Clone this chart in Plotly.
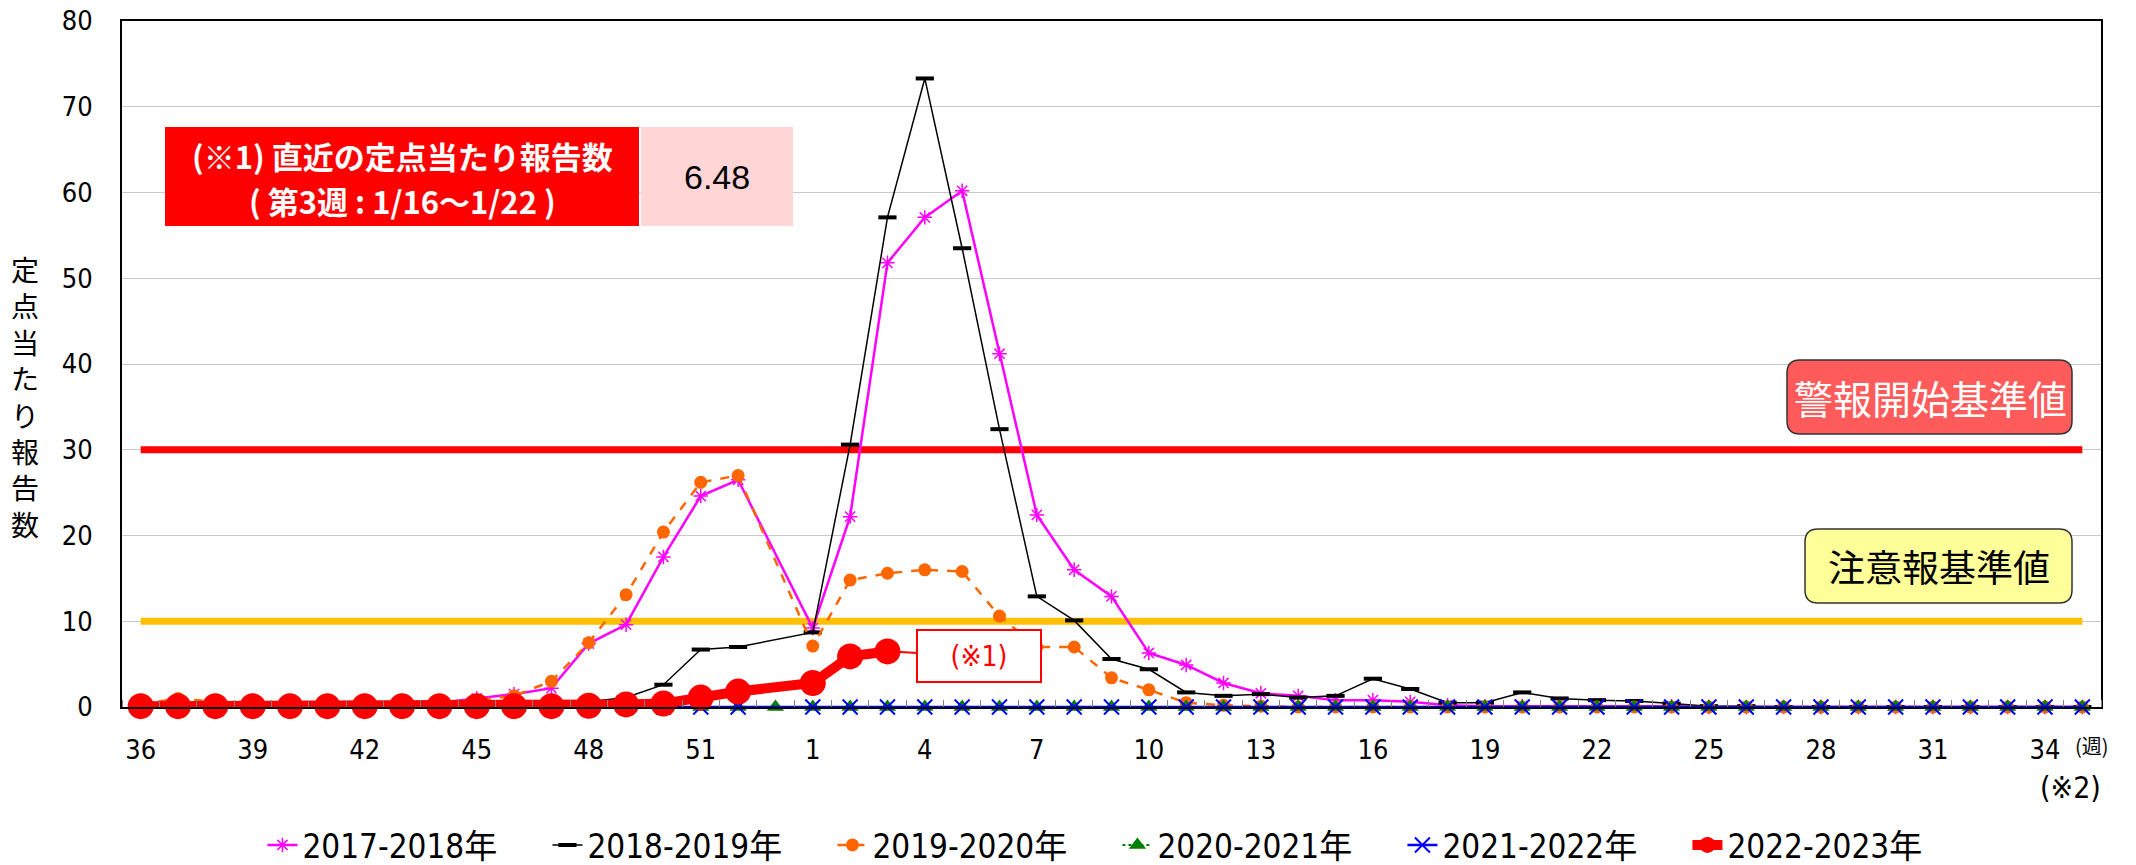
import plotly.graph_objects as go

# ---------------- data ----------------
weeks = [36, 37, 38, 39, 40, 41, 42, 43, 44, 45, 46, 47, 48, 49, 50, 51, 52, 53,
         1, 2, 3, 4, 5, 6, 7, 8, 9, 10, 11, 12, 13, 14, 15, 16, 17, 18, 19, 20,
         21, 22, 23, 24, 25, 26, 27, 28, 29, 30, 31, 32, 33, 34, 35]

s2017 = [0.1, 0.1, 0.1, 0.1, 0.1, 0.2, 0.2, 0.3, 0.5, 1.0, 1.5, 2.2, 7.4, 9.6, 17.5, 24.6, 26.5, None,
         9.2, 22.2, 51.8, 57.1, 60.2, 41.2, 22.4, 16.0, 12.9, 6.3, 4.9, 2.8, 1.6, 1.3, 0.8, 0.8, 0.6, 0.2,
         0.1, 0.1, 0.1, 0.1, 0.1, 0.1, 0.0, 0.0, 0.0, 0.0, 0.0, 0.0, 0.0, 0.0, 0.0, 0.0, 0.0]
s2018 = [0.1, 0.1, 0.1, 0.1, 0.1, 0.1, 0.1, 0.1, 0.2, 0.2, 0.3, 0.4, 0.6, 1.1, 2.6, 6.7, 7.0, None,
         8.7, 30.6, 57.1, 73.3, 53.5, 32.4, 12.9, 10.1, 5.6, 4.4, 1.7, 1.3, 1.5, 1.1, 1.3, 3.3, 2.1, 0.5,
         0.5, 1.7, 1.0, 0.8, 0.7, 0.4, 0.1, 0.1, 0.0, 0.0, 0.0, 0.0, 0.0, 0.0, 0.0, 0.0, 0.0]
s2019 = [0.3, 1.0, 0.6, 0.3, 0.3, 0.3, 0.3, 0.4, 0.6, 0.8, 1.3, 3.0, 7.5, 13.1, 20.4, 26.2, 27.0, None,
         7.1, 14.8, 15.6, 16.0, 15.8, 10.6, 7.0, 7.0, 3.4, 2.0, 0.5, 0.2, 0.1, 0.0, 0.0, 0.0, 0.0, 0.0,
         0.0, 0.0, 0.0, 0.0, 0.0, 0.0, 0.0, 0.0, 0.0, 0.0, 0.0, 0.0, 0.0, 0.0, 0.0, 0.0, 0.0]
s2020 = [0.0, 0.0, 0.0, 0.0, 0.0, 0.0, 0.0, 0.0, 0.0, 0.0, 0.0, 0.0, 0.0, 0.0, 0.0, 0.0, 0.0, 0.0,
         0.0, 0.0, 0.0, 0.0, 0.0, 0.0, 0.0, 0.0, 0.0, 0.0, 0.0, 0.0, 0.0, 0.0, 0.0, 0.0, 0.0, 0.0,
         0.0, 0.0, 0.0, 0.0, 0.0, 0.0, 0.0, 0.0, 0.0, 0.0, 0.0, 0.0, 0.0, 0.0, 0.0, 0.0, 0.0]
s2021 = [0.0, 0.0, 0.0, 0.0, 0.0, 0.0, 0.0, 0.0, 0.0, 0.0, 0.0, 0.0, 0.0, 0.0, 0.0, 0.0, 0.0, None,
         0.0, 0.0, 0.0, 0.0, 0.0, 0.0, 0.0, 0.0, 0.0, 0.0, 0.0, 0.0, 0.0, 0.0, 0.0, 0.0, 0.0, 0.0,
         0.0, 0.0, 0.0, 0.0, 0.0, 0.0, 0.0, 0.0, 0.0, 0.0, 0.0, 0.0, 0.0, 0.0, 0.0, 0.0, 0.0]
s2022 = [0.1, 0.1, 0.1, 0.1, 0.1, 0.1, 0.1, 0.1, 0.1, 0.1, 0.1, 0.1, 0.15, 0.3, 0.4, 1.1, 1.8, None,
         2.8, 5.9, 6.48]

series_names = ["2017-2018年", "2018-2019年", "2019-2020年", "2020-2021年", "2021-2022年", "2022-2023年"]
alarm_level = 30
advisory_level = 10
latest_value = "6.48"
latest_label_1 = "(※1) 直近の定点当たり報告数"
latest_label_2 = "( 第3週 : 1/16～1/22 )"
y_title = "定点当たり報告数"
y_ticks = [0, 10, 20, 30, 40, 50, 60, 70, 80]
tick_step = 3

# ---------------- layout helpers ----------------
W, H = 2136, 865
L, R, T, B = 122, 2101, 21, 707
PW, PH = R - L, B - T


def px(x):
    return (x - L) / PW


def py(y):
    return (B - y) / PH


def rounded_rect(x0, y0, x1, y1, r):
    X0, X1 = px(x0), px(x1)
    Yt, Yb = py(y0), py(y1)
    rx, ry = r / PW, r / PH
    return (f"M {X0+rx},{Yt} L {X1-rx},{Yt} Q {X1},{Yt} {X1},{Yt-ry} "
            f"L {X1},{Yb+ry} Q {X1},{Yb} {X1-rx},{Yb} L {X0+rx},{Yb} "
            f"Q {X0},{Yb} {X0},{Yb+ry} L {X0},{Yt-ry} Q {X0},{Yt} {X0+rx},{Yt} Z")


def label(x, y, text, **font):
    return dict(xref="paper", yref="paper", x=px(x), y=py(y), text=text, showarrow=False,
                xanchor="center", yanchor="middle", align="center", font=font)


xi = list(range(len(weeks)))
NARROW = "DejaVu Sans Condensed, Liberation Sans Narrow, Noto Sans CJK JP, sans-serif"
CJK = "Noto Sans CJK JP, sans-serif"

fig = go.Figure()

# threshold lines
fig.add_trace(go.Scatter(x=xi, y=[alarm_level for _ in weeks], mode="lines",
                         line=dict(color="#FF0000", width=7), showlegend=False, hoverinfo="skip"))
fig.add_trace(go.Scatter(x=xi, y=[advisory_level for _ in weeks], mode="lines",
                         line=dict(color="#FFC000", width=7), showlegend=False, hoverinfo="skip"))

styles = [
    dict(line=dict(color="#FF00FF", width=2.5),
         marker=dict(symbol="asterisk-open", size=12, color="#FF00FF", line=dict(color="#FF00FF", width=1.5))),
    dict(line=dict(color="#000000", width=1.5),
         marker=dict(symbol="line-ew", size=13, color="#000000", line=dict(color="#000000", width=4))),
    dict(line=dict(color="#FF6600", width=2.5, dash="dash"),
         marker=dict(symbol="circle", size=13, color="#FF6600")),
    dict(line=dict(color="#008000", width=2, dash="dot"),
         marker=dict(symbol="triangle-up", size=15, color="#008000")),
    dict(line=dict(color="#0000FF", width=2.5),
         marker=dict(symbol="x-thin-open", size=15, color="#0000FF", line=dict(color="#0000FF", width=2))),
    dict(line=dict(color="#FF0000", width=10),
         marker=dict(symbol="circle", size=26, color="#FF0000")),
]
for name, ys, st in zip(series_names, [s2017, s2018, s2019, s2020, s2021, s2022], styles):
    fig.add_trace(go.Scatter(x=xi[:len(ys)], y=ys, name=name, mode="lines+markers",
                             connectgaps=True, cliponaxis=False, **st))

shapes = [
    dict(type="rect", xref="paper", yref="paper", x0=px(165), x1=px(639), y0=py(226), y1=py(127),
         fillcolor="#FF0000", line=dict(width=0)),
    dict(type="rect", xref="paper", yref="paper", x0=px(641), x1=px(793), y0=py(226), y1=py(127),
         fillcolor="#FFD5D5", line=dict(width=0)),
    dict(type="path", xref="paper", yref="paper", path=rounded_rect(1787, 360, 2072, 434, 13),
         fillcolor="#FF5B5B", line=dict(color="#333333", width=1.5)),
    dict(type="path", xref="paper", yref="paper", path=rounded_rect(1805, 529, 2072, 603, 13),
         fillcolor="#FFFF99", line=dict(color="#333333", width=1.5)),
]

annotations = [
    label(402, 155, latest_label_1, family=CJK, size=31, color="white", weight="bold"),
    label(402, 200, latest_label_2, family=CJK, size=31, color="white", weight="bold"),
    label(717, 177, latest_value, family="Liberation Sans, Arial, sans-serif", size=34, color="black"),
    label(1930, 397, "警報開始基準値", family=CJK, size=39, color="white"),
    label(1939, 566, "注意報基準値", family=CJK, size=37, color="black"),
    label(25, 396, "<br>".join(list(y_title)), family=CJK, size=28, color="black"),
    label(2092, 745, "(週)", family=CJK, size=20, color="black"),
    label(2070, 787, "(※2)", family=NARROW, size=30, color="black"),
    dict(x=xi[len(s2022) - 1], y=s2022[-1], xref="x", yref="y", text="(※1)",
         showarrow=True, arrowhead=0, arrowcolor="#FF0000", arrowwidth=2, ax=92, ay=5,
         standoff=8, bgcolor="white", bordercolor="#FF0000", borderwidth=2, borderpad=2,
         width=118, height=46, font=dict(family=NARROW, size=28, color="#FF0000")),
]

tickvals = xi[::tick_step]
fig.update_layout(
    width=W, height=H,
    margin=dict(l=L, r=W - R, t=T, b=H - B, autoexpand=False),
    plot_bgcolor="white", paper_bgcolor="white",
    font=dict(family=NARROW, color="black"),
    shapes=shapes, annotations=annotations,
    legend=dict(orientation="h", x=0.503, xanchor="center", y=py(845), yanchor="middle",
                font=dict(family=NARROW, size=33, color="black"),
                entrywidth=240, entrywidthmode="pixels", itemsizing="trace"),
    xaxis=dict(range=[-0.5, len(weeks) - 0.5], tickmode="array", tickvals=tickvals,
               ticktext=[str(weeks[i]) for i in tickvals], ticks="", showgrid=False,
               showline=True, linecolor="black", linewidth=2, mirror=True, automargin=False,
               tickfont=dict(family=NARROW, size=27, color="black"), ticklabelstandoff=18,
               minor=dict(tickmode="array", tickvals=[i - 0.5 for i in range(len(weeks) + 1)],
                          ticks="inside", ticklen=7, tickcolor="#808080", tickwidth=1, showgrid=False),
               zeroline=False),
    yaxis=dict(range=[0, 80], tickmode="array", tickvals=y_ticks, ticktext=[str(v) for v in y_ticks],
               showgrid=True, gridcolor="#C8C8C8", gridwidth=1, automargin=False,
               showline=True, linecolor="black", linewidth=2, mirror=True, ticks="",
               tickfont=dict(family=NARROW, size=27, color="black"), ticklabelstandoff=22,
               zeroline=False),
)

fig.write_html("out.html", config={"displayModeBar": False},
               post_script="document.body.style.margin='0px';document.body.style.overflow='hidden';")
